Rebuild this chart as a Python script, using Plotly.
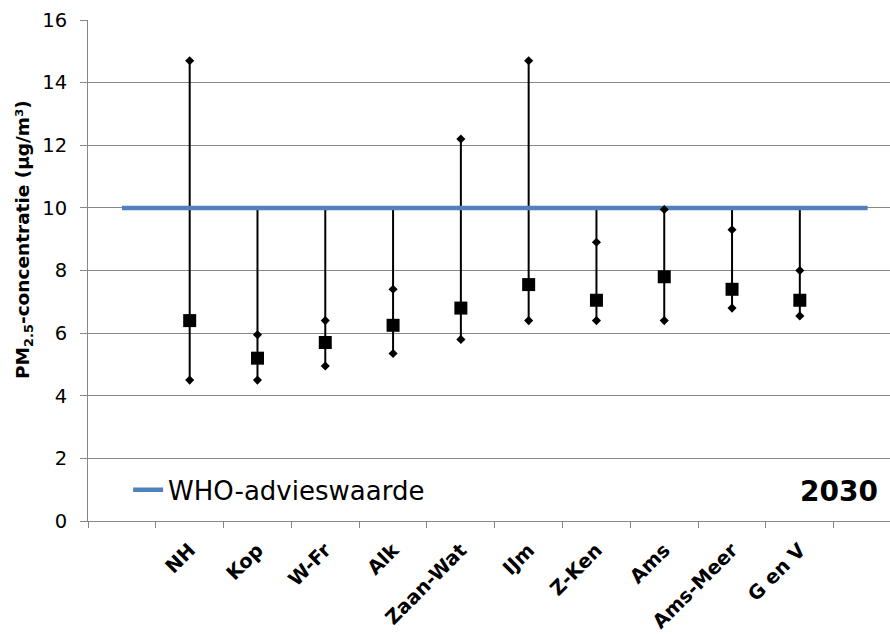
import plotly.graph_objects as go

# PM2.5 concentration per region, 2030 scenario (µg/m³)
categories = ["NH", "Kop", "W-Fr", "Alk", "Zaan-Wat", "IJm", "Z-Ken", "Ams", "Ams-Meer", "G en V"]
upper = [14.7, 5.95, 6.4, 7.4, 12.2, 14.7, 8.9, 9.95, 9.3, 8.0]
mean = [6.4, 5.2, 5.7, 6.25, 6.8, 7.55, 7.05, 7.8, 7.4, 7.05]
lower = [4.5, 4.5, 4.95, 5.35, 5.8, 6.4, 6.4, 6.4, 6.8, 6.55]

WHO_LIMIT = 10
n_slots = len(categories) + 2          # one empty slot on each side
who_values = [WHO_LIMIT] * n_slots
y_ticks = [0, 2, 4, 6, 8, 10, 12, 14, 16]

FONT = "DejaVu Sans"
GRID = "#878787"

cat_x = list(range(1, len(categories) + 1))
slot_x = list(range(n_slots))

# high-low lines span all series (including the WHO value) per category
hl_x, hl_y = [], []
for i, x in enumerate(cat_x):
    vals = [upper[i], mean[i], lower[i], WHO_LIMIT]
    hl_x += [x, x, None]
    hl_y += [min(vals), max(vals), None]

fig = go.Figure()

fig.add_trace(go.Scatter(
    x=hl_x, y=hl_y, mode="lines",
    line=dict(color="black", width=2),
    showlegend=False, hoverinfo="skip",
))

fig.add_trace(go.Scatter(
    x=slot_x, y=who_values, mode="lines",
    name="WHO-advieswaarde",
    line=dict(color="#4F81BD", width=4.5),
))

fig.add_trace(go.Scatter(
    x=cat_x, y=upper, mode="markers",
    marker=dict(symbol="diamond", size=7, color="black"),
    showlegend=False,
))
fig.add_trace(go.Scatter(
    x=cat_x, y=lower, mode="markers",
    marker=dict(symbol="diamond", size=7, color="black"),
    showlegend=False,
))
fig.add_trace(go.Scatter(
    x=cat_x, y=mean, mode="markers",
    marker=dict(symbol="square", size=13, color="black"),
    showlegend=False,
))

fig.update_layout(
    width=890, height=634,
    margin=dict(l=88, r=0, t=20, b=113),
    paper_bgcolor="white", plot_bgcolor="white",
    font=dict(family=FONT, size=18, color="black"),
    legend=dict(
        x=0.05, y=0.062, xanchor="left", yanchor="middle",
        bgcolor="rgba(0,0,0,0)", font=dict(size=26, family=FONT),
    ),
    xaxis=dict(
        range=[-0.5, 11.33],
        tickvals=cat_x, ticktext=categories,
        tickangle=-45, ticks="", ticklabelstandoff=9,
        tickfont=dict(family=FONT, size=19.5, color="black", weight="bold"),
        showgrid=False, zeroline=False,
        showline=True, linecolor=GRID, linewidth=1,
        minor=dict(
            tickvals=[x - 0.5 for x in slot_x],
            ticks="outside", ticklen=6, tickcolor=GRID, tickwidth=1,
            showgrid=False,
        ),
    ),
    yaxis=dict(
        range=[0, 16], tickvals=y_ticks,
        ticks="outside", ticklen=7, tickcolor=GRID, ticklabelstandoff=9,
        tickfont=dict(family=FONT, size=19.5, color="black"),
        showgrid=True, gridcolor=GRID, gridwidth=1,
        zeroline=False, showline=True, linecolor=GRID, linewidth=1,
    ),
    annotations=[
        dict(
            text="PM<sub>2.5</sub>-concentratie (µg/m³)",
            textangle=-90, xref="paper", yref="paper",
            x=0, y=0.561, xshift=-64, xanchor="center", yanchor="middle",
            showarrow=False,
            font=dict(family=FONT, size=18.5, color="black", weight="bold"),
        ),
        dict(
            text="<b>2030</b>", xref="paper", yref="paper",
            x=0.9875, y=0.058, xanchor="right", yanchor="middle",
            showarrow=False, font=dict(family=FONT, size=28, color="black"),
        ),
    ],
)

fig.write_html("out.html")
